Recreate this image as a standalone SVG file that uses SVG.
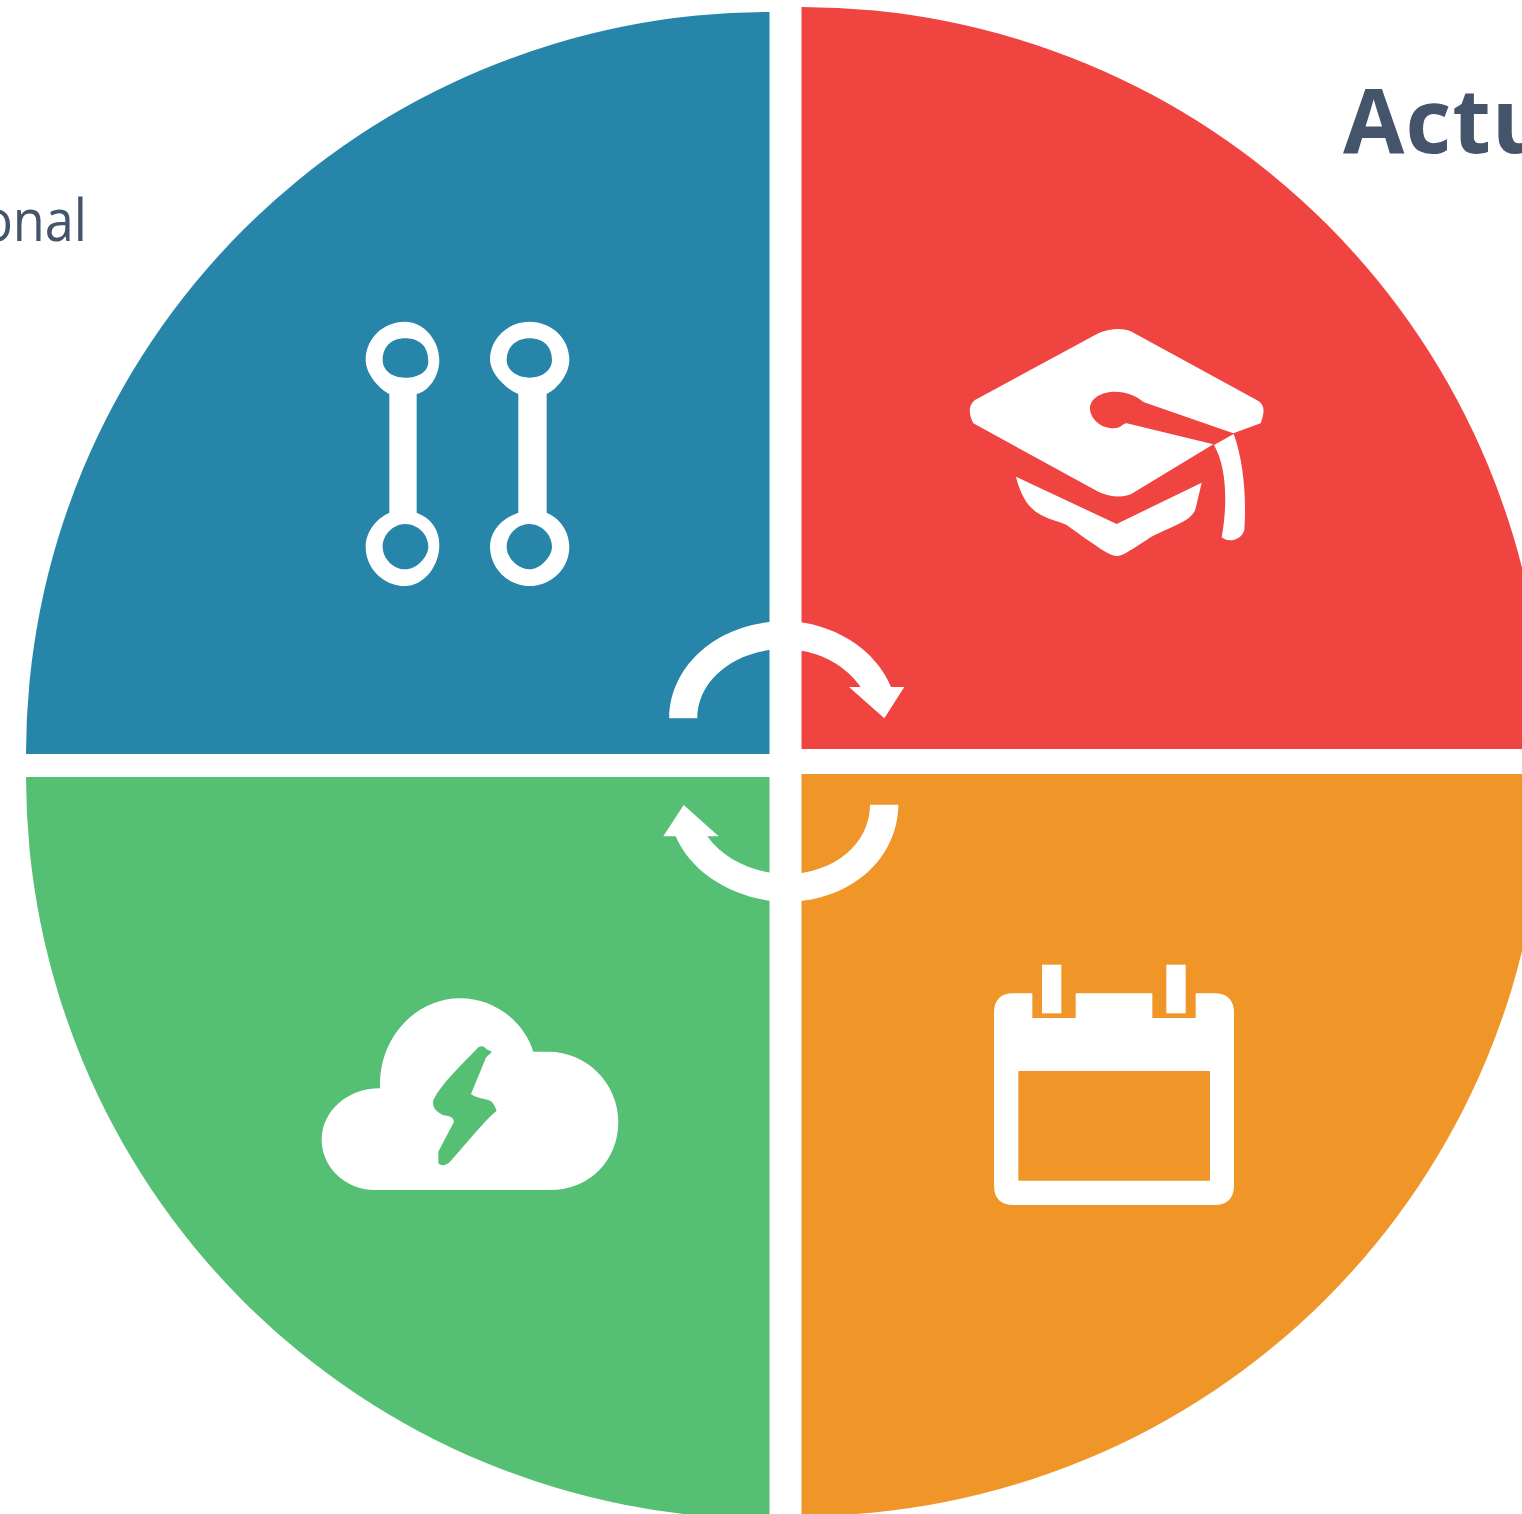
<svg xmlns="http://www.w3.org/2000/svg" width="1522" height="1514" viewBox="0 0 1522 1514">
<style>
.w{fill:#fff;fill-rule:evenodd}
.t{fill:#44546A;font-family:"Open Sans","Noto Sans",sans-serif}
</style>
<rect width="1522" height="1514" fill="#fff"/>
<g id="quadrant-blue"><path fill="#2685A8" d="M769.5 754H26A743.5 742 0 0 1 769.5 12Z"/>
<g transform="translate(350 310) scale(.33333)"><path class="w" d="M118 252C85 235 47 190 47 150C47 85 100 35 165 35C225 35 268 95 268 150C268 200 235 245 200 252L200 608C245 625 268 660 268 705C268 770 220 828 165 828C100 828 47 775 47 710C47 665 80 625 118 608ZM165 85C125 85 98 110 98 150C98 180 125 203 165 203C205 203 235 185 235 155C235 110 210 85 165 85ZM165 642C130 642 98 675 98 710C98 745 130 778 165 778C200 778 235 740 235 710C235 675 205 642 165 642Z"/>
<path class="w" d="M505 252C465 235 420 190 420 148C420 85 475 35 538 35C605 35 658 85 658 150C658 190 625 235 590 252L590 608C630 625 658 665 658 710C658 775 605 828 538 828C475 828 420 775 420 710C420 665 455 625 505 608ZM538 85C500 85 470 110 470 150C470 180 500 203 538 203C575 203 606 182 606 150C606 110 580 85 538 85ZM538 642C500 642 470 675 470 710C470 745 505 778 538 778C570 778 606 740 606 710C606 675 575 642 538 642Z"/></g></g>
<g id="quadrant-red"><path fill="#EF4440" d="M801.5 749H1544.5A743 742 0 0 0 801.5 7Z"/>
<g transform="translate(950 310) scale(.33333)"><path class="w" d="M445 70C475 55 520 52 545 65L920 270C945 283 945 305 932 340L850 370L582 277C560 258 530 245 495 245C455 245 420 265 420 295C420 325 450 355 490 355C515 355 518 340 530 340L790 403L550 548C525 565 480 562 445 545L70 340C55 310 55 285 75 270Z"/>
<path class="w" d="M792 405L851 372C880 450 890 560 883 660C875 690 835 700 815 682C830 600 835 480 792 405Z"/>
<path class="w" d="M198 500L500 642L755 518L737 595C725 640 640 655 590 690C550 715 520 738 500 738C480 738 440 710 350 645C300 620 230 630 198 500Z"/></g></g>
<g id="quadrant-green"><path fill="#55BF73" d="M769.5 777H26A743.5 742 0 0 0 769.5 1519Z"/>
<g transform="translate(310 990) scale(.33333)"><path class="w" d="M195 600C105 600 35 530 35 450C35 365 110 295 210 295C205 140 320 25 450 25C550 25 640 90 670 185L715 185C830 185 925 280 925 395C925 510 840 600 720 600ZM505 172C455 225 395 280 370 330C365 360 385 365 400 376C415 378 430 380 432 395L385 485L385 520C395 530 410 525 420 515C470 460 520 395 560 362C555 350 550 335 535 330C520 325 500 325 483 312L525 210C530 195 540 195 545 185L530 178C525 170 515 165 505 172Z"/></g></g>
<g id="quadrant-orange"><path fill="#F09528" d="M801.5 774H1543.5A742 742 0 0 1 801.5 1516Z"/>
<g transform="translate(980 950) scale(.33333)"><path class="w" d="M100 130L157 130L157 204L287 204L287 130L517 130L517 204L647 204L647 130L703 130Q762 130 762 190L762 705Q762 765 703 765L100 765Q42 765 42 705L42 190Q42 130 100 130ZM115 363L115 692L690 692L690 363Z"/>
<rect class="w" x="186" y="44" width="58" height="146"/><rect class="w" x="559" y="44" width="58" height="146"/></g></g>
<g id="connectors">
<path class="w" d="M669.3 718.3C669.3 668 715 622 785 621C832 622 875 648 891 687H904.3L884.3 718.3L849 687H860.7C843 662 815 650 785 649C735 649 697.3 680 697.3 718.3Z"/>
<path class="w" d="M898.3 804.7C898.3 855 855 901 785.5 902C738 901 692 875 675.7 836.3H663.3L683.7 805L718.7 836.3H707.3C725 861 755 873 785.5 874C835 874 870 843 870 804.7Z"/>
</g>
<g id="labels">
<text class="t" x="1343" y="153" font-size="89" font-weight="700" letter-spacing="1">Actu</text>
<text class="t" text-anchor="end" transform="translate(87 241) scale(.9 1)" font-size="58">onal</text>
</g>
</svg>
